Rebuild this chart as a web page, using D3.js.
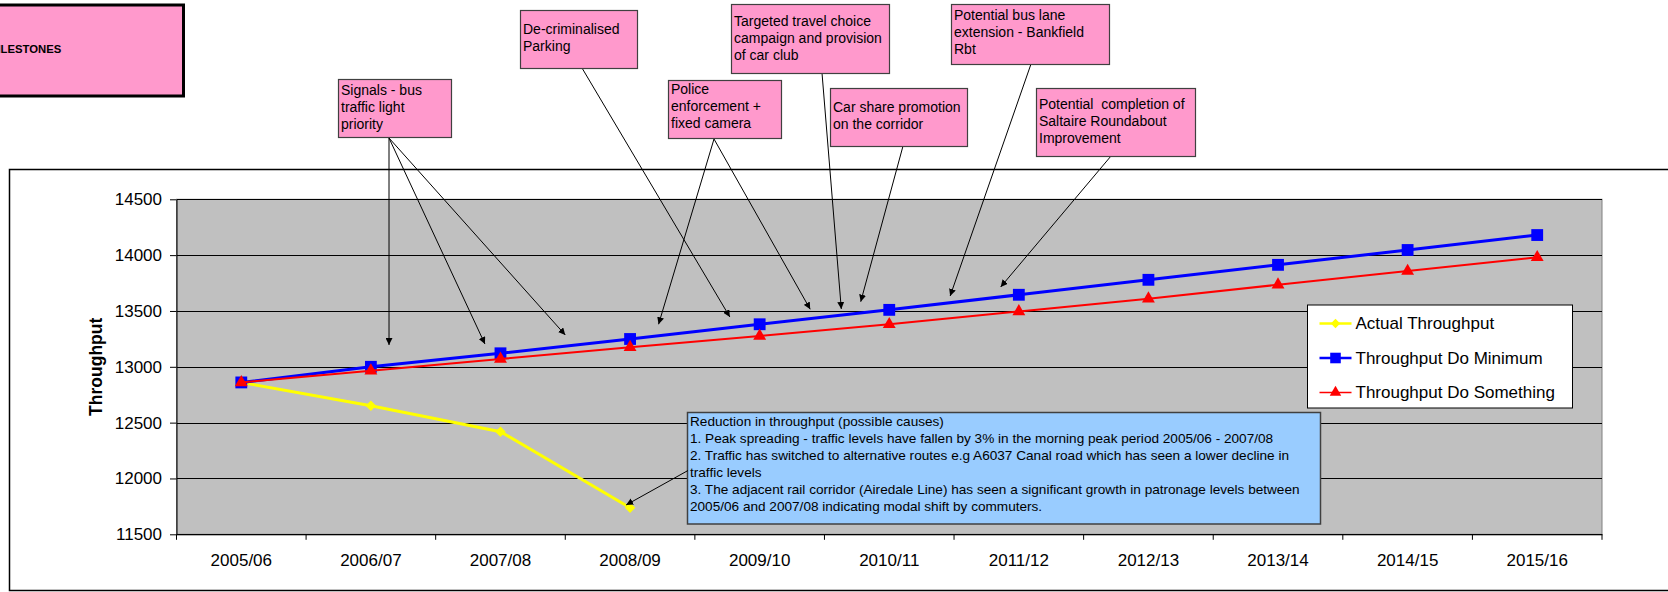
<!DOCTYPE html>
<html>
<head>
<meta charset="utf-8">
<script src="https://cdn.jsdelivr.net/npm/d3@7"></script>
<style>
  body { margin: 0; background: #fff; }
  svg { display: block; font-family: 'Liberation Sans', Arial, sans-serif; }
</style>
</head>
<body>
<svg class="line-chart" width="1668" height="592"></svg>
<script>
'use strict';

// Chart data
var years = ['2005/06', '2006/07', '2007/08', '2008/09', '2009/10', '2010/11',
  '2011/12', '2012/13', '2013/14', '2014/15', '2015/16'];
var actualThroughput = [12860, 12652, 12419, 11738];
var doMinimum = [12860, 13000, 13121, 13249, 13381, 13510, 13645, 13779, 13913, 14046, 14180];
var doSomething = [12860, 12965, 13070, 13175, 13276, 13380, 13495, 13610, 13735, 13857, 13980];
var yTicks = [11500, 12000, 12500, 13000, 13500, 14000, 14500];
var seriesNames = ['Actual Throughput', 'Throughput Do Minimum', 'Throughput Do Something'];

// Milestone notes: text lines and the spots (category index, value) their arrows point at
var milestoneText = [
  ['Signals - bus', 'traffic light', 'priority'],
  ['De-criminalised', 'Parking'],
  ['Police', 'enforcement +', 'fixed camera'],
  ['Targeted travel choice', 'campaign and provision', 'of car club'],
  ['Car share promotion', 'on the corridor'],
  ['Potential bus lane', 'extension - Bankfield', 'Rbt'],
  ['Potential  completion of', 'Saltaire Roundabout', 'Improvement']
];
var milestoneTargets = [
  [[1.14, 13195], [1.88, 13204], [2.50, 13285]],
  [[3.77, 13446]],
  [[3.22, 13381], [4.39, 13515]],
  [[4.63, 13518]],
  [[4.78, 13583]],
  [[5.47, 13634]],
  [[5.86, 13715]]
];
var reductionText = [
  'Reduction in throughput (possible causes)',
  '1. Peak spreading - traffic levels have fallen by 3% in the morning peak period 2005/06 - 2007/08',
  '2. Traffic has switched to alternative routes e.g A6037 Canal road which has seen a lower decline in',
  'traffic levels',
  '3. The adjacent rail corridor (Airedale Line) has seen a significant growth in patronage levels between',
  '2005/06 and 2007/08 indicating modal shift by commuters.'
];
var reductionTarget = [2.97, 11763];

// Layout of the note boxes (pixels): x, y, w, h, first baseline offset, arrow start
var milestoneBoxes = [
  { x: 338, y: 79, w: 113, h: 58, base: 16, from: [389, 138] },
  { x: 520, y: 10, w: 117, h: 58, base: 24, from: [582, 68] },
  { x: 668, y: 80, w: 113, h: 58, base: 14, from: [714, 139] },
  { x: 731, y: 4, w: 158, h: 69, base: 22, from: [822, 73] },
  { x: 830, y: 88, w: 137, h: 58, base: 24, from: [903, 146] },
  { x: 951, y: 4, w: 158, h: 60, base: 16, from: [1031, 64] },
  { x: 1036, y: 88, w: 159, h: 68, base: 21, from: [1111, 156] }
];

var svg = d3.select('svg.line-chart');
var plot = { left: 176.5, top: 199.3, right: 1602, bottom: 534.3 };
var plotWidth = plot.right - plot.left;
var plotHeight = plot.bottom - plot.top;

//Scales
var xBand = d3.scaleBand().domain(years).range([plot.left, plot.right]);
var xIdx = d3.scaleLinear().domain([-0.5, years.length - 0.5]).range([plot.left, plot.right]);
var yScale = d3.scaleLinear().domain([11500, 14500]).range([plot.bottom, plot.top]);

var defs = svg.append('defs');
defs.append('marker').attr('id', 'head').attr('viewBox', '0 0 10 10')
  .attr('refX', 10).attr('refY', 5).attr('markerWidth', 7).attr('markerHeight', 7)
  .attr('markerUnits', 'userSpaceOnUse').attr('orient', 'auto')
  .append('path').attr('d', 'M0,0 L10,5 L0,10 Z').attr('fill', '#000');

//Chart border
svg.append('rect').attr('x', 9.5).attr('y', 169.5).attr('width', 1700).attr('height', 421)
  .attr('fill', '#fff').attr('stroke', '#000').attr('stroke-width', 1.5);

//Plot area
svg.append('rect').attr('x', plot.left).attr('y', plot.top).attr('width', plotWidth).attr('height', plotHeight)
  .attr('fill', '#c0c0c0').attr('stroke', '#808080').attr('stroke-width', 1);

//Gridlines
svg.append('g').attr('transform', 'translate(' + plot.left + ',0)')
  .call(d3.axisLeft(yScale).tickValues(yTicks).tickSize(-plotWidth).tickFormat(''))
  .call(function (g) {
    g.select('.domain').remove();
    g.selectAll('line').attr('stroke', '#000').attr('shape-rendering', 'crispEdges');
  });

//Y axis
svg.append('g').classed('y-axis', true).attr('transform', 'translate(' + plot.left + ',0)')
  .call(d3.axisLeft(yScale).tickValues(yTicks).tickSize(6.5).tickSizeOuter(0).tickPadding(8).tickFormat(d3.format('d')))
  .call(function (g) {
    g.selectAll('text').attr('font-size', 17).attr('font-family', null).attr('fill', '#000');
    g.selectAll('line, path').attr('stroke', '#000');
  });

//X axis
svg.append('g').classed('x-axis', true).attr('transform', 'translate(0,' + plot.bottom + ')')
  .call(d3.axisBottom(xBand).tickSize(0).tickPadding(20))
  .call(function (g) {
    g.selectAll('text').attr('font-size', 17).attr('font-family', null).attr('fill', '#000');
    g.select('.domain').attr('stroke', '#000');
  });
svg.append('g').selectAll('line').data(years.concat(['end'])).join('line')
  .attr('x1', function (d, i) { return xIdx(i - 0.5); })
  .attr('x2', function (d, i) { return xIdx(i - 0.5); })
  .attr('y1', plot.bottom).attr('y2', plot.bottom + 5.5)
  .attr('stroke', '#000');

//Y axis label
svg.append('text').attr('transform', 'translate(96,' + (plot.top + plotHeight / 2) + ') rotate(-90)')
  .attr('text-anchor', 'middle').attr('dy', '0.35em')
  .attr('font-size', 17.5).attr('font-weight', 'bold').text('Throughput');

//Series
var series = [
  { name: seriesNames[0], values: actualThroughput, color: '#ffff00', width: 3, symbol: d3.symbolDiamond2, size: 70 },
  { name: seriesNames[1], values: doMinimum, color: '#0000ff', width: 3, symbol: d3.symbolSquare, size: 140 },
  { name: seriesNames[2], values: doSomething, color: '#ff0000', width: 2, symbol: d3.symbolTriangle, size: 72 }
];

var line = d3.line()
  .x(function (d, i) { return xIdx(i); })
  .y(function (d) { return yScale(d); });

series.forEach(function (s) {
  var g = svg.append('g');
  g.append('path').datum(s.values).attr('d', line)
    .attr('fill', 'none').attr('stroke', s.color).attr('stroke-width', s.width);
  g.selectAll('path.pt').data(s.values).join('path').classed('pt', true)
    .attr('transform', function (d, i) { return 'translate(' + xIdx(i) + ',' + yScale(d) + ')'; })
    .attr('d', d3.symbol().type(s.symbol).size(s.size))
    .attr('fill', s.color);
});

//Legend
var legend = svg.append('g').attr('transform', 'translate(1307.5,305)');
legend.append('rect').attr('width', 265).attr('height', 103)
  .attr('fill', '#fff').attr('stroke', '#000').attr('stroke-width', 1);
var item = legend.selectAll('g').data(series).join('g')
  .attr('transform', function (d, i) { return 'translate(0,' + (18.5 + i * 34.5) + ')'; });
item.append('line').attr('x1', 12).attr('x2', 44)
  .attr('stroke', function (d) { return d.color; })
  .attr('stroke-width', function (d) { return d.width === 2 ? 1.5 : 2.5; });
item.append('path').attr('transform', 'translate(28,0)')
  .attr('d', function (d) { return d3.symbol().type(d.symbol).size(d.size * 0.8)(); })
  .attr('fill', function (d) { return d.color; });
item.append('text').attr('x', 48).attr('dy', '0.35em').attr('font-size', 17).text(function (d) { return d.name; });

//Milestones heading box
svg.append('rect').attr('x', -20).attr('y', 5).attr('width', 203.5).attr('height', 91)
  .attr('fill', '#ff99cc').attr('stroke', '#000').attr('stroke-width', 3);
svg.append('text').attr('x', -12).attr('y', 53).attr('font-size', 11.3).attr('font-weight', 'bold').text('MILESTONES');

//Milestone arrows
milestoneBoxes.forEach(function (b, i) {
  milestoneTargets[i].forEach(function (t) {
    svg.append('line').attr('x1', b.from[0]).attr('y1', b.from[1])
      .attr('x2', xIdx(t[0])).attr('y2', yScale(t[1]))
      .attr('stroke', '#000').attr('stroke-width', 1).attr('marker-end', 'url(#head)');
  });
});

//Milestone boxes
milestoneBoxes.forEach(function (b, i) {
  var g = svg.append('g').attr('transform', 'translate(' + b.x + ',' + b.y + ')');
  g.append('rect').attr('x', 0.5).attr('y', 0.5).attr('width', b.w).attr('height', b.h)
    .attr('fill', '#ff99cc').attr('stroke', '#404040').attr('stroke-width', 1.2);
  g.selectAll('text').data(milestoneText[i]).join('text')
    .attr('x', 3).attr('y', function (d, j) { return b.base + j * 17; })
    .attr('font-size', 14).attr('xml:space', 'preserve').style('white-space', 'pre')
    .text(function (d) { return d; });
});

//Reduction note
var note = svg.append('g').attr('transform', 'translate(687.5,412.5)');
note.append('rect').attr('width', 633).attr('height', 111.5)
  .attr('fill', '#99ccff').attr('stroke', '#404040').attr('stroke-width', 1.5);
note.selectAll('text').data(reductionText).join('text')
  .attr('x', 2.5).attr('y', function (d, j) { return 13 + j * 17; })
  .attr('font-size', 13.6).text(function (d) { return d; });
svg.append('line').attr('x1', 688).attr('y1', 470.5)
  .attr('x2', xIdx(reductionTarget[0])).attr('y2', yScale(reductionTarget[1]))
  .attr('stroke', '#000').attr('stroke-width', 1).attr('marker-end', 'url(#head)');
</script>
</body>
</html>
